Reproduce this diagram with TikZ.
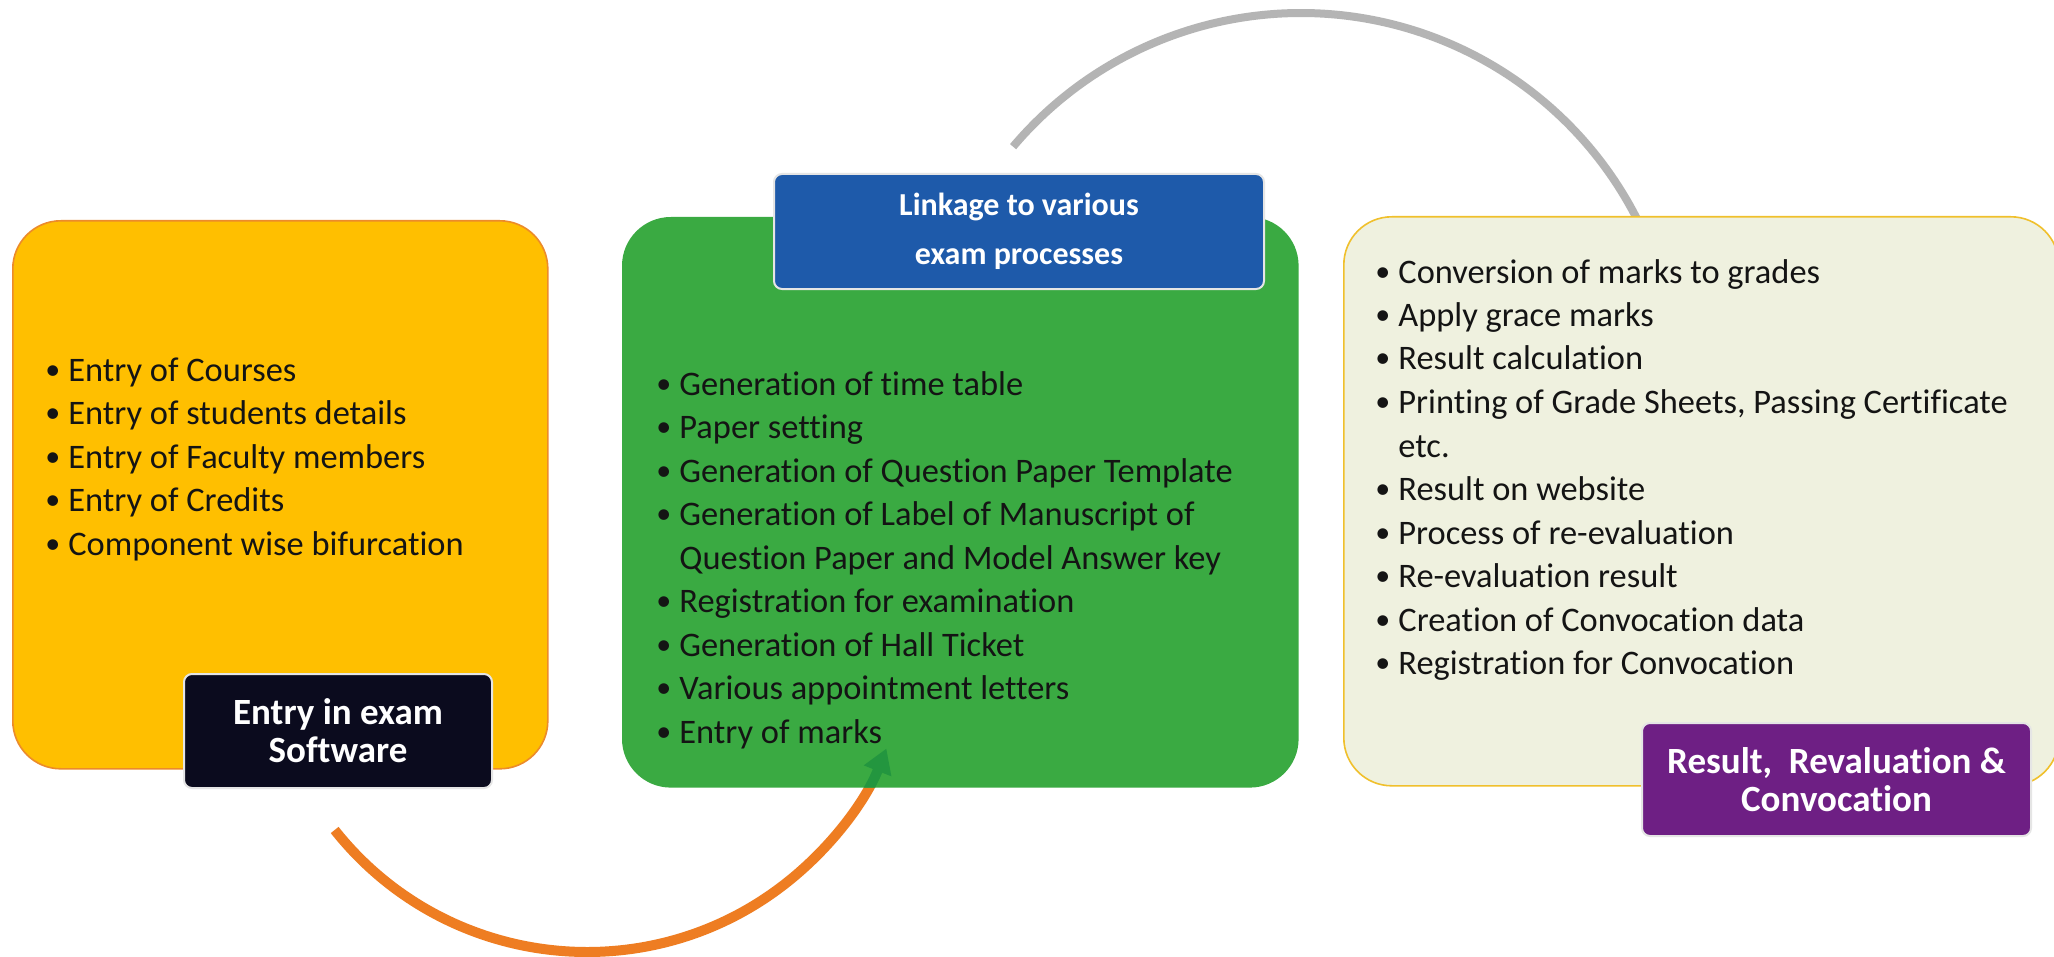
\documentclass[tikz,border=0pt]{standalone}
\usepackage{fontspec}
\setmainfont{Carlito}[Ligatures=NoCommon]
\usetikzlibrary{arrows.meta}
\definecolor{cYellow}{HTML}{FFBF00}
\definecolor{cYellowLine}{HTML}{EC8B2A}
\definecolor{cDark}{HTML}{0B0B1E}
\definecolor{cGreen}{HTML}{3AAA42}
\definecolor{cGreenDark}{HTML}{23963F}
\definecolor{cBlue}{HTML}{1E5AAA}
\definecolor{cCream}{HTML}{EFF1DF}
\definecolor{cCreamLine}{HTML}{F0C02C}
\definecolor{cPurple}{HTML}{6E1F84}
\definecolor{cOrange}{HTML}{EE7D22}
\definecolor{cGray}{HTML}{B4B4B4}
\definecolor{cText}{HTML}{141414}

\newcommand{\dotmark}{\raisebox{1pt}{\fontsize{15}{15}\selectfont •}}
\newcommand{\mybullet}[1]{\par\hangindent=10pt\hangafter=1\noindent\makebox[10pt][l]{\hspace{-1.5pt}\dotmark}#1}

\tikzset{
 bigbox/.style={rectangle, rounded corners=24pt, inner sep=0pt, anchor=north west, line width=0.8pt},
 labelbox/.style={rectangle, rounded corners=4pt, inner sep=0pt, anchor=north west, line width=1pt, draw=white!90!black, text=white, align=center, font=\fontsize{18.5}{19}\selectfont\bfseries},
 bullets/.style={anchor=base west, inner sep=0pt, text=cText, font=\fontsize{17.2}{21.75}\selectfont},
 arcline/.style={line width=5pt},
 tipstyle/.style={-{Triangle[length=12pt,width=14pt]}},
}

\begin{document}
\begin{tikzpicture}[x=0.5pt,y=-0.5pt]
\useasboundingbox (0,0) rectangle (2054,957);
\fill[white] (0,0) rectangle (2054,957);

\coordinate (gc) at (1301,390);
\coordinate (oc) at (587,630);

% grey arc (behind the right box)
\draw[arcline, line width=4pt, cGray] (gc) ++(-139.8:377) coordinate (gs) arc[start angle=-139.8, end angle=-26, radius=377];

% orange arc with arrow into the green box
\draw[arcline, cOrange, tipstyle] (oc) ++(141.6:322) coordinate (os) arc[start angle=141.6, end angle=21.6, radius=322];

% left box
\node[bigbox, fill=cYellow, draw=cYellowLine, minimum width=267.5pt, minimum height=274pt] (ybox) at (12,220) {};
\node[labelbox, fill=cDark, minimum width=154pt, minimum height=57pt] (ylab) at (183,673) {Entry in exam\\Software};

% middle box
\node[bigbox, fill=cGreen, draw=cGreen, minimum width=337.5pt, minimum height=284.5pt] (gbox) at (622,217) {};
\begin{scope}
\clip[rounded corners=24pt] (gbox.north west) rectangle (gbox.south east);
\draw[arcline, cGreenDark, tipstyle] (oc) ++(141.6:322) arc[start angle=141.6, end angle=21.6, radius=322];
\end{scope}
\node[labelbox, fill=cBlue, font=\fontsize{16}{24.5}\selectfont\bfseries, minimum width=245pt, minimum height=57.5pt] (glab) at (773,173) {Linkage to various\\exam processes};

% right box
\node[bigbox, fill=cCream, draw=cCreamLine, minimum width=357.5pt, minimum height=284.5pt] (cbox) at (1343,216) {};
\node[labelbox, fill=cPurple, minimum width=194.5pt, minimum height=56.5pt] (clab) at (1641,722) {Result,~ Revaluation \&\\Convocation};

% bullet lists
\node[bullets] (ylist) at (48,381) {\parbox[t]{250pt}{%
\mybullet{Entry of Courses}
\mybullet{Entry of students details}
\mybullet{Entry of Faculty members}
\mybullet{Entry of Credits}
\mybullet{Component wise bifurcation}}};

\node[bullets] (glist) at (659,395) {\parbox[t]{320pt}{%
\mybullet{Generation of time table}
\mybullet{Paper setting}
\mybullet{Generation of Question Paper Template}
\mybullet{Generation of Label of Manuscript of\hfil\break Question Paper and Model Answer key}
\mybullet{Registration for examination}
\mybullet{Generation of Hall Ticket}
\mybullet{Various appointment letters}
\mybullet{Entry of marks}}};

\node[bullets] (clist) at (1378,283) {\parbox[t]{330pt}{%
\mybullet{Conversion of marks to grades}
\mybullet{Apply grace marks}
\mybullet{Result calculation}
\mybullet{Printing of Grade Sheets, Passing Certificate\hfil\break etc.}
\mybullet{Result on website}
\mybullet{Process of re-evaluation}
\mybullet{Re-evaluation result}
\mybullet{Creation of Convocation data}
\mybullet{Registration for Convocation}}};
\end{tikzpicture}
\end{document}
